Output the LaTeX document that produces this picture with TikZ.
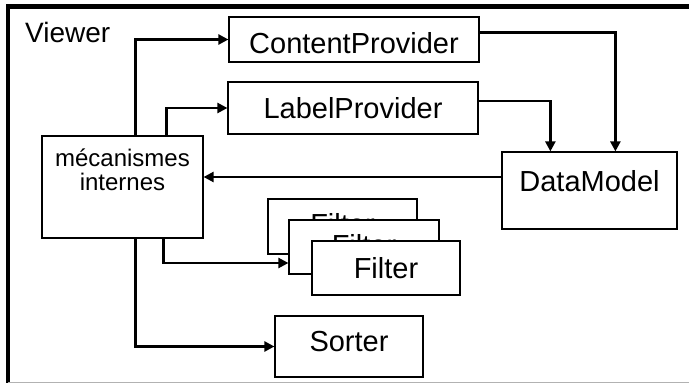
\documentclass[tikz,border=0pt]{standalone}
\usepackage{fontspec}
\setmainfont{Liberation Sans}
\usetikzlibrary{arrows.meta}

\begin{document}
\begin{tikzpicture}[
  x=1pt, y=-1pt,
  box/.style={draw, rectangle, line width=1.2pt, fill=white, inner sep=0pt,
    font=\fontsize{29}{33}\selectfont},
  arr/.style={line width=2.4pt, -{Triangle[length=10pt,width=10pt]}},
]
\useasboundingbox (0,0) rectangle (689,385);

% frame of the viewer
\draw[line width=4.7pt] (6,6.7) -- (689,6.7);
\draw[line width=4.5pt] (8,4.5) -- (8,383);
\draw[gray!60, line width=1.5pt] (8,382.7) -- (689,382.7);
\node (viewer) [anchor=base west, inner sep=0pt, font=\fontsize{28}{32}\selectfont]
  at (25,43) {Viewer};

\node (content) [box, minimum width=250, minimum height=45, text height=28pt]
  at (354,39.5) {ContentProvider};
\node (label) [box, minimum width=250, minimum height=52] at (353,108) {LabelProvider};
\node (mec) [box, minimum width=161, minimum height=102, align=center, text depth=35pt,
  font=\fontsize{24}{24}\selectfont] at (122.5,187) {mécanismes\\internes};
\node (data) [box, minimum width=175, minimum height=77, text depth=20pt]
  at (589.5,190.5) {DataModel};

\node (filter1) [box, minimum width=149, minimum height=55, text depth=5pt] at (342.5,226.5) {Filter};
\node (filter2) [box, minimum width=150, minimum height=54, text depth=5pt] at (364,247) {Filter};
\node (filter3) [box, minimum width=148, minimum height=54] at (386,268) {Filter};
\node (sorter) [box, minimum width=148, minimum height=61, text depth=11pt] at (349,346.5) {Sorter};

\draw[arr] ([xshift=94]mec.north west) |- (content.west);
\draw[arr] ([xshift=125]mec.north west) |- (label.west);
\draw[arr] ([yshift=7]content.east) -| ([xshift=114]data.north west);
\draw[arr] ([yshift=7]label.east) -| ([xshift=49]data.north west);
\draw[arr] ([yshift=10]mec.east -| data.west) -- ([yshift=10]mec.east);
\draw[arr] ([xshift=122]mec.south west) |- ([yshift=-16]filter2.west);
\draw[arr] ([xshift=94]mec.south west) |- (sorter.west);

\end{tikzpicture}
\end{document}
